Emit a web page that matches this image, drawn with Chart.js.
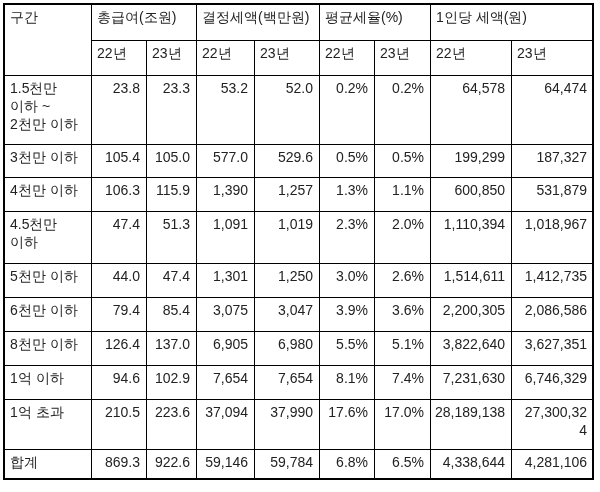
<!DOCTYPE html>
<html><head><meta charset="utf-8">
<script src="https://cdn.jsdelivr.net/npm/chart.js"></script>
<style>html,body{margin:0;padding:0;background:#fff}</style>
</head><body>
<canvas id="c" width="600" height="492"></canvas>
<script>
const headerGroups = ["총급여(조원)", "결정세액(백만원)", "평균세율(%)", "1인당 세액(원)"];
const years = ["22년", "23년"];
const categories = [["1.5천만","이하 ~","2천만 이하"],["3천만 이하"],["4천만 이하"],["4.5천만","이하"],["5천만 이하"],["6천만 이하"],["8천만 이하"],["1억 이하"],["1억 초과"],["합계"]];
const pay22 = ["23.8","105.4","106.3","47.4","44.0","79.4","126.4","94.6","210.5","869.3"];
const pay23 = ["23.3","105.0","115.9","51.3","47.4","85.4","137.0","102.9","223.6","922.6"];
const tax22 = ["53.2","577.0","1,390","1,091","1,301","3,075","6,905","7,654","37,094","59,146"];
const tax23 = ["52.0","529.6","1,257","1,019","1,250","3,047","6,980","7,654","37,990","59,784"];
const rate22 = ["0.2%","0.5%","1.3%","2.3%","3.0%","3.9%","5.5%","8.1%","17.6%","6.8%"];
const rate23 = ["0.2%","0.5%","1.1%","2.0%","2.6%","3.6%","5.1%","7.4%","17.0%","6.5%"];
const per22 = ["64,578","199,299","600,850","1,110,394","1,514,611","2,200,305","3,822,640","7,231,630","28,189,138","4,338,644"];
const per23 = ["64,474","187,327","531,879","1,018,967","1,412,735","2,086,586","3,627,351","6,746,329","27,300,32\n4","4,281,106"];
const colEdges = [4,91,146,196,254,319,374,430,511,593];
const rowEdges = [4,40,75,144,177,211,263,297,331,365,399,449,479];

const tablePlugin = {
  id: 'table',
  afterDraw(chart) {
    const ctx = chart.ctx, xs = chart.scales.x, ys = chart.scales.y;
    const X = v => xs.getPixelForValue(v), Y = v => ys.getPixelForValue(v);
    ctx.save();
    ctx.strokeStyle = '#000'; ctx.lineWidth = 1;
    const line = (x1,y1,x2,y2) => { ctx.beginPath(); ctx.moveTo(Math.round(X(x1))+0.5, Math.round(Y(y1))+0.5); ctx.lineTo(Math.round(X(x2))+0.5, Math.round(Y(y2))+0.5); ctx.stroke(); };
    const L = colEdges[0], R = colEdges[colEdges.length-1], T = rowEdges[0], B = rowEdges[rowEdges.length-1];
    line(colEdges[1], rowEdges[1], R, rowEdges[1]);
    for (let i = 2; i < rowEdges.length-1; i++) line(L, rowEdges[i], R, rowEdges[i]);
    for (let j = 1; j < colEdges.length-1; j++) {
      const top = (j % 2 === 0) ? rowEdges[1] : T;
      line(colEdges[j], top, colEdges[j], B);
    }
    ctx.lineWidth = 2;
    ctx.strokeRect(X(L), Y(T), X(R)-X(L), Y(B)-Y(T));
    ctx.fillStyle = '#222';
    ctx.font = '14px "Liberation Sans", Arial, sans-serif';
    ctx.textBaseline = 'middle';
    const lh = 18;
    const txt = (lines, c, r, align) => {
      const arr = Array.isArray(lines) ? lines : String(lines).split('\n');
      ctx.textAlign = align;
      const x = align === 'left' ? X(colEdges[c]) + 6 : X(colEdges[c+1]) - 6;
      arr.forEach((s, k) => ctx.fillText(s, x, Y(rowEdges[r]) + 14 + k*lh));
    };
    txt("구간", 0, 0, 'left');
    headerGroups.forEach((h, g) => txt(h, 1 + g*2, 0, 'left'));
    for (let c = 1; c < 9; c++) txt(years[(c-1)%2], c, 1, 'left');
    const cols = [pay22,pay23,tax22,tax23,rate22,rate23,per22,per23];
    categories.forEach((cat, i) => {
      txt(cat, 0, i+2, 'left');
      cols.forEach((col, c) => txt(col[i], c+1, i+2, 'right'));
    });
    ctx.restore();
  }
};

new Chart(document.getElementById('c'), {
  type: 'scatter',
  data: { datasets: [{ data: [] }] },
  options: {
    responsive: false, animation: false,
    layout: { padding: 0 },
    plugins: { legend: { display: false }, tooltip: { enabled: false } },
    scales: {
      x: { type: 'linear', min: 0, max: 600, display: false },
      y: { type: 'linear', min: 0, max: 492, reverse: true, display: false }
    }
  },
  plugins: [tablePlugin]
});
</script>
</body></html>
